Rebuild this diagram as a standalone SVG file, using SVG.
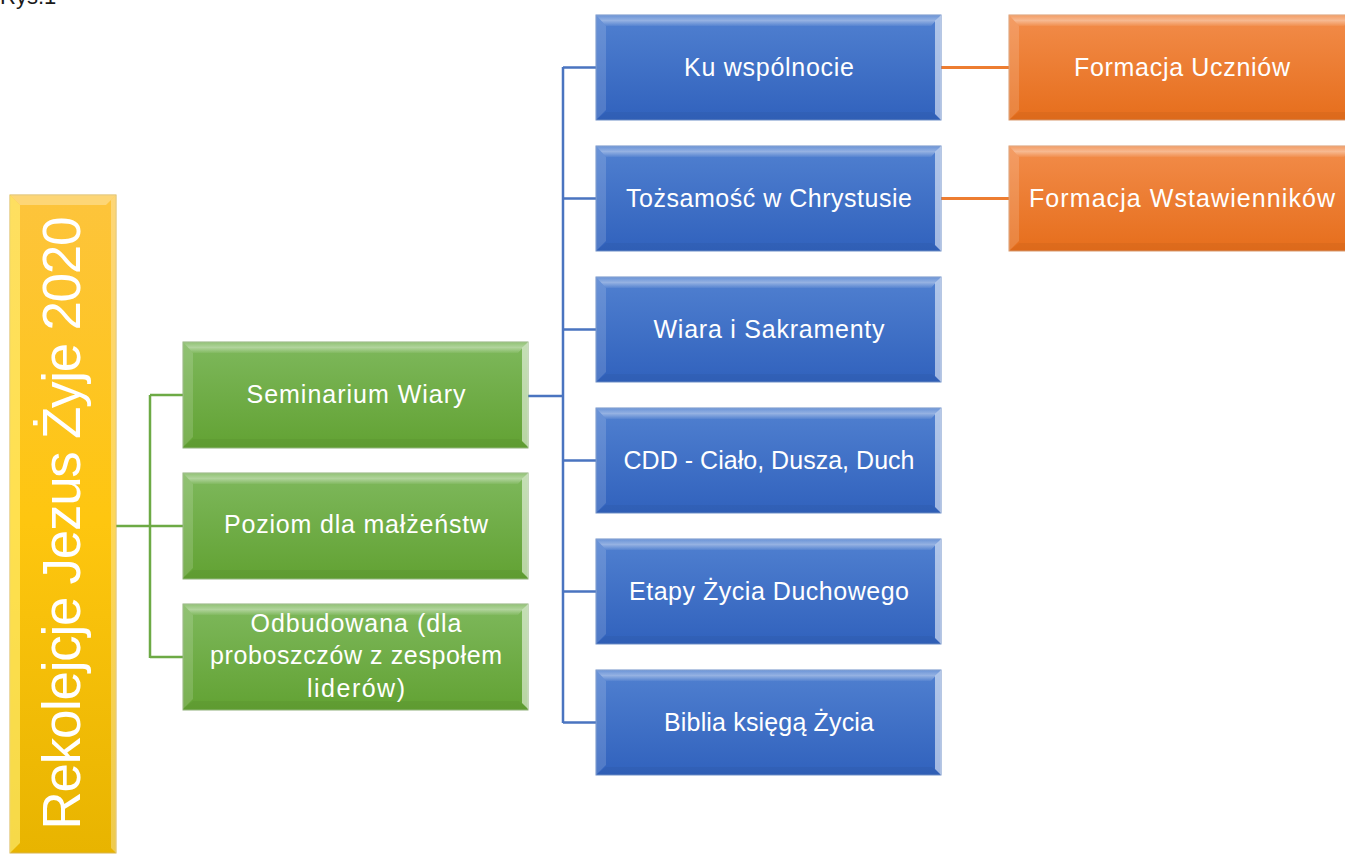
<svg xmlns="http://www.w3.org/2000/svg" xmlns:xlink="http://www.w3.org/1999/xlink" width="1345" height="854" viewBox="0 0 1345 854">
<style>
.t{fill:#ffffff;font-family:"Liberation Sans",Arial,sans-serif;font-size:25px;text-anchor:middle}
.cap{fill:#1a1a1a;font-family:"Liberation Sans",Arial,sans-serif;font-size:22px}
.cg{fill:none;stroke:#6DAA45;stroke-width:2.5}
.cb{fill:none;stroke:#4A74C0;stroke-width:2.5}
.co{fill:none;stroke:#ED7D31;stroke-width:3}
</style>
<defs>
<linearGradient id="gY" x1="0" y1="0" x2="0" y2="1"><stop offset="0" stop-color="#FDC43C"/><stop offset="0.5" stop-color="#FEC60F"/><stop offset="1" stop-color="#E8B400"/></linearGradient>
<linearGradient id="gG" x1="0" y1="0" x2="0" y2="1"><stop offset="0" stop-color="#7EB85C"/><stop offset="1" stop-color="#62A233"/></linearGradient>
<linearGradient id="gB" x1="0" y1="0" x2="0" y2="1"><stop offset="0" stop-color="#5080D0"/><stop offset="1" stop-color="#3162BD"/></linearGradient>
<linearGradient id="gO" x1="0" y1="0" x2="0" y2="1"><stop offset="0" stop-color="#F28C4A"/><stop offset="1" stop-color="#E66E1C"/></linearGradient>
<linearGradient id="gTop" x1="0" y1="0" x2="0" y2="1"><stop offset="0" stop-color="#ffffff" stop-opacity="0.15"/><stop offset="0.5" stop-color="#ffffff" stop-opacity="0.4"/><stop offset="1" stop-color="#ffffff" stop-opacity="0.05"/></linearGradient>
<g id="bev">
<polygon points="0,0 345,0 335,11 10,11" fill="url(#gTop)"/>
<polygon points="0,0 10,11 10,95 0,105" fill="#ffffff" fill-opacity="0.15"/>
<polygon points="345,0 345,105 339,99 339,6" fill="#ffffff" fill-opacity="0.55"/>
<polygon points="0,105 345,105 336,97 10,97" fill="#000000" fill-opacity="0.04"/>
</g>
</defs>

<text class="cap" x="0" y="4">Rys.1</text>

<g id="connectors">
<path class="cg" d="M116,526 H150 M150,395 V658 M150,395 H183 M150,526 H183 M150,657 H183"/>
<path class="cb" d="M528,396 H563 M563,67 V723 M563,67.5 H596 M563,198.5 H596 M563,329.5 H596 M563,460.5 H596 M563,591.5 H596 M563,722.5 H596"/>
<path class="co" d="M941,67.5 H1009 M941,198.5 H1009"/>
</g>

<g id="root">
<rect x="10" y="195" width="106" height="658" fill="url(#gY)" stroke="#D9B44A" stroke-width="1"/>
<polygon points="10,195 116,195 106,205 20,205" fill="#ffffff" fill-opacity="0.3"/>
<polygon points="10,195 20,205 20,843 10,853" fill="#FFF27A" fill-opacity="0.6"/>
<polygon points="116,195 116,853 111,848 111,200" fill="#ffffff" fill-opacity="0.3"/>
<text class="t" transform="translate(80,523) rotate(-90)" x="0" y="0" style="font-size:53px" textLength="613">Rekolejcje Jezus Żyje 2020</text>
</g>

<g id="n-seminarium">
<rect x="183" y="342" width="345" height="106" fill="url(#gG)" stroke="#8FB07A" stroke-width="1"/>
<use xlink:href="#bev" href="#bev" transform="translate(183,342)"/>
<text class="t" x="356" y="403" textLength="219">Seminarium Wiary</text>
</g>
<g id="n-poziom">
<rect x="183" y="473" width="345" height="106" fill="url(#gG)" stroke="#8FB07A" stroke-width="1"/>
<use xlink:href="#bev" href="#bev" transform="translate(183,473)"/>
<text class="t" x="356" y="533" textLength="264">Poziom dla małżeństw</text>
</g>
<g id="n-odbudowana">
<rect x="183" y="604" width="345" height="106" fill="url(#gG)" stroke="#8FB07A" stroke-width="1"/>
<use xlink:href="#bev" href="#bev" transform="translate(183,604)"/>
<text class="t" x="356" y="632" textLength="211">Odbudowana (dla</text>
<text class="t" x="356" y="664" textLength="292">proboszczów z zespołem</text>
<text class="t" x="356" y="697" textLength="98">liderów)</text>
</g>

<g id="n-ku">
<rect x="596" y="15" width="345" height="105" fill="url(#gB)" stroke="#6F8FC8" stroke-width="1"/>
<use xlink:href="#bev" href="#bev" transform="translate(596,15)"/>
<text class="t" x="769" y="76" textLength="170">Ku wspólnocie</text>
</g>
<g id="n-tozsamosc">
<rect x="596" y="146" width="345" height="105" fill="url(#gB)" stroke="#6F8FC8" stroke-width="1"/>
<use xlink:href="#bev" href="#bev" transform="translate(596,146)"/>
<text class="t" x="769" y="207" textLength="286">Tożsamość w Chrystusie</text>
</g>
<g id="n-wiara">
<rect x="596" y="277" width="345" height="105" fill="url(#gB)" stroke="#6F8FC8" stroke-width="1"/>
<use xlink:href="#bev" href="#bev" transform="translate(596,277)"/>
<text class="t" x="769" y="338" textLength="231">Wiara i Sakramenty</text>
</g>
<g id="n-cdd">
<rect x="596" y="408" width="345" height="105" fill="url(#gB)" stroke="#6F8FC8" stroke-width="1"/>
<use xlink:href="#bev" href="#bev" transform="translate(596,408)"/>
<text class="t" x="769" y="469" textLength="291">CDD - Ciało, Dusza, Duch</text>
</g>
<g id="n-etapy">
<rect x="596" y="539" width="345" height="105" fill="url(#gB)" stroke="#6F8FC8" stroke-width="1"/>
<use xlink:href="#bev" href="#bev" transform="translate(596,539)"/>
<text class="t" x="769" y="600" textLength="280">Etapy Życia Duchowego</text>
</g>
<g id="n-biblia">
<rect x="596" y="670" width="345" height="105" fill="url(#gB)" stroke="#6F8FC8" stroke-width="1"/>
<use xlink:href="#bev" href="#bev" transform="translate(596,670)"/>
<text class="t" x="769" y="731" textLength="210">Biblia księgą Życia</text>
</g>

<g id="n-uczniow">
<rect x="1009" y="15" width="345" height="105" fill="url(#gO)" stroke="#D99A6E" stroke-width="1"/>
<use xlink:href="#bev" href="#bev" transform="translate(1009,15)"/>
<text class="t" x="1182" y="76" textLength="216">Formacja Uczniów</text>
</g>
<g id="n-wstawiennikow">
<rect x="1009" y="146" width="345" height="105" fill="url(#gO)" stroke="#D99A6E" stroke-width="1"/>
<use xlink:href="#bev" href="#bev" transform="translate(1009,146)"/>
<text class="t" x="1182" y="207" textLength="306">Formacja Wstawienników</text>
</g>
</svg>
